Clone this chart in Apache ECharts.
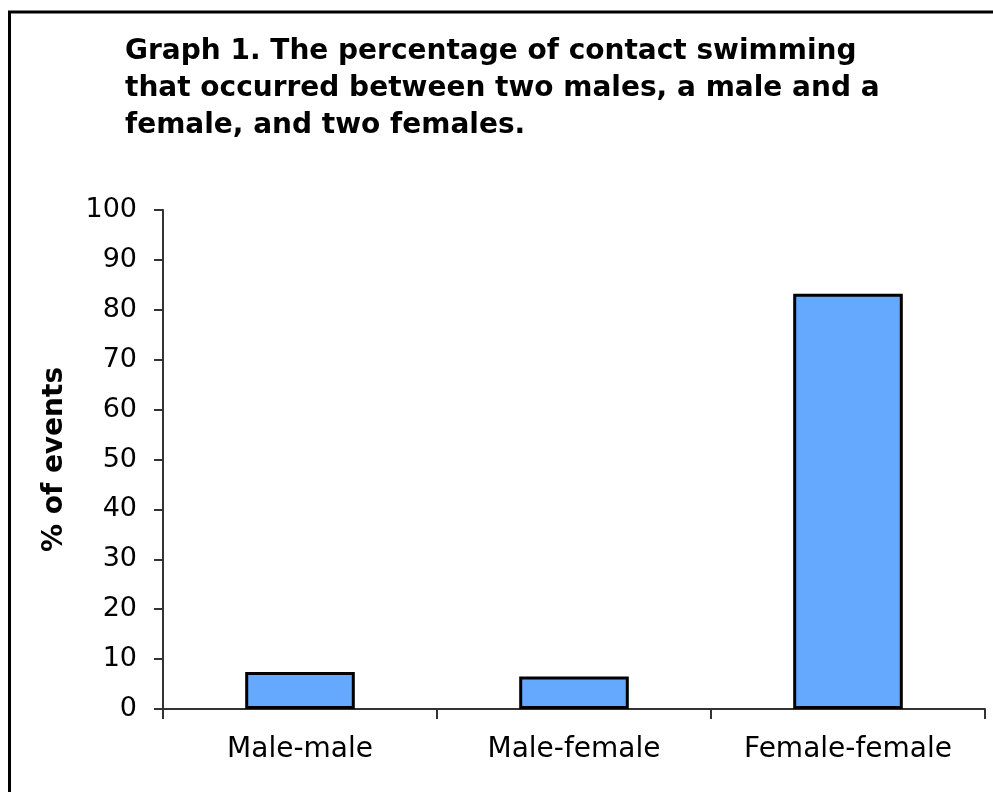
<!DOCTYPE html>
<html>
<head>
<meta charset="utf-8">
<script src="https://cdn.jsdelivr.net/npm/echarts@6/dist/echarts.min.js"></script>
<style>
  html, body { margin: 0; padding: 0; background: #fff; }
  #chart { width: 993px; height: 792px; }
</style>
</head>
<body>
<div id="chart"></div>
<script>
// Pair types observed in contact swimming events
const categories = ['Male-male', 'Male-female', 'Female-female'];
// Share of all events, in percent
const percentEvents = [7.4, 6.5, 83.2];
// Y axis range and step
const yTicks = { min: 0, max: 100, interval: 10 };

const titleLines = [
  'Graph 1. The percentage of contact swimming',
  'that occurred between two males, a male and a',
  'female, and two females.'
];

const FONT = '"DejaVu Sans", Verdana, sans-serif';

const chart = echarts.init(document.getElementById('chart'), null, { renderer: 'canvas' });

chart.setOption({
  animation: false,
  backgroundColor: '#ffffff',
  title: {
    text: titleLines.join('\n'),
    left: 120,
    top: 28,
    textStyle: {
      fontFamily: FONT,
      fontWeight: 'bold',
      fontSize: 28,
      lineHeight: 37,
      color: '#000000'
    }
  },
  graphic: [{
    type: 'rect',
    shape: { x: 9.5, y: 12, width: 1100, height: 1100 },
    style: { fill: 'none', stroke: '#000000', lineWidth: 3 },
    silent: true
  }],
  grid: { left: 163, right: 8, top: 210, bottom: 83 },
  xAxis: {
    type: 'category',
    data: categories,
    boundaryGap: true,
    axisLine: { lineStyle: { color: '#333333', width: 2 } },
    axisTick: { show: true, alignWithLabel: false, length: 10, lineStyle: { color: '#333333', width: 2 } },
    axisLabel: { fontFamily: FONT, fontSize: 28, color: '#000000', margin: 27, interval: 0 }
  },
  yAxis: {
    type: 'value',
    min: yTicks.min,
    max: yTicks.max,
    interval: yTicks.interval,
    name: '% of events',
    nameLocation: 'middle',
    nameGap: 94,
    nameRotate: 90,
    nameTextStyle: { fontFamily: FONT, fontWeight: 'bold', fontSize: 28, color: '#000000' },
    splitLine: { show: false },
    axisLine: { show: true, lineStyle: { color: '#333333', width: 2 } },
    axisTick: { show: true, length: 9, lineStyle: { color: '#333333', width: 2 } },
    axisLabel: { fontFamily: FONT, fontSize: 27, color: '#000000', margin: 26 }
  },
  series: [{
    type: 'bar',
    data: percentEvents,
    barWidth: '40%',
    itemStyle: { color: '#65A9FF', borderColor: '#000000', borderWidth: 3 }
  }]
});
</script>
</body>
</html>
